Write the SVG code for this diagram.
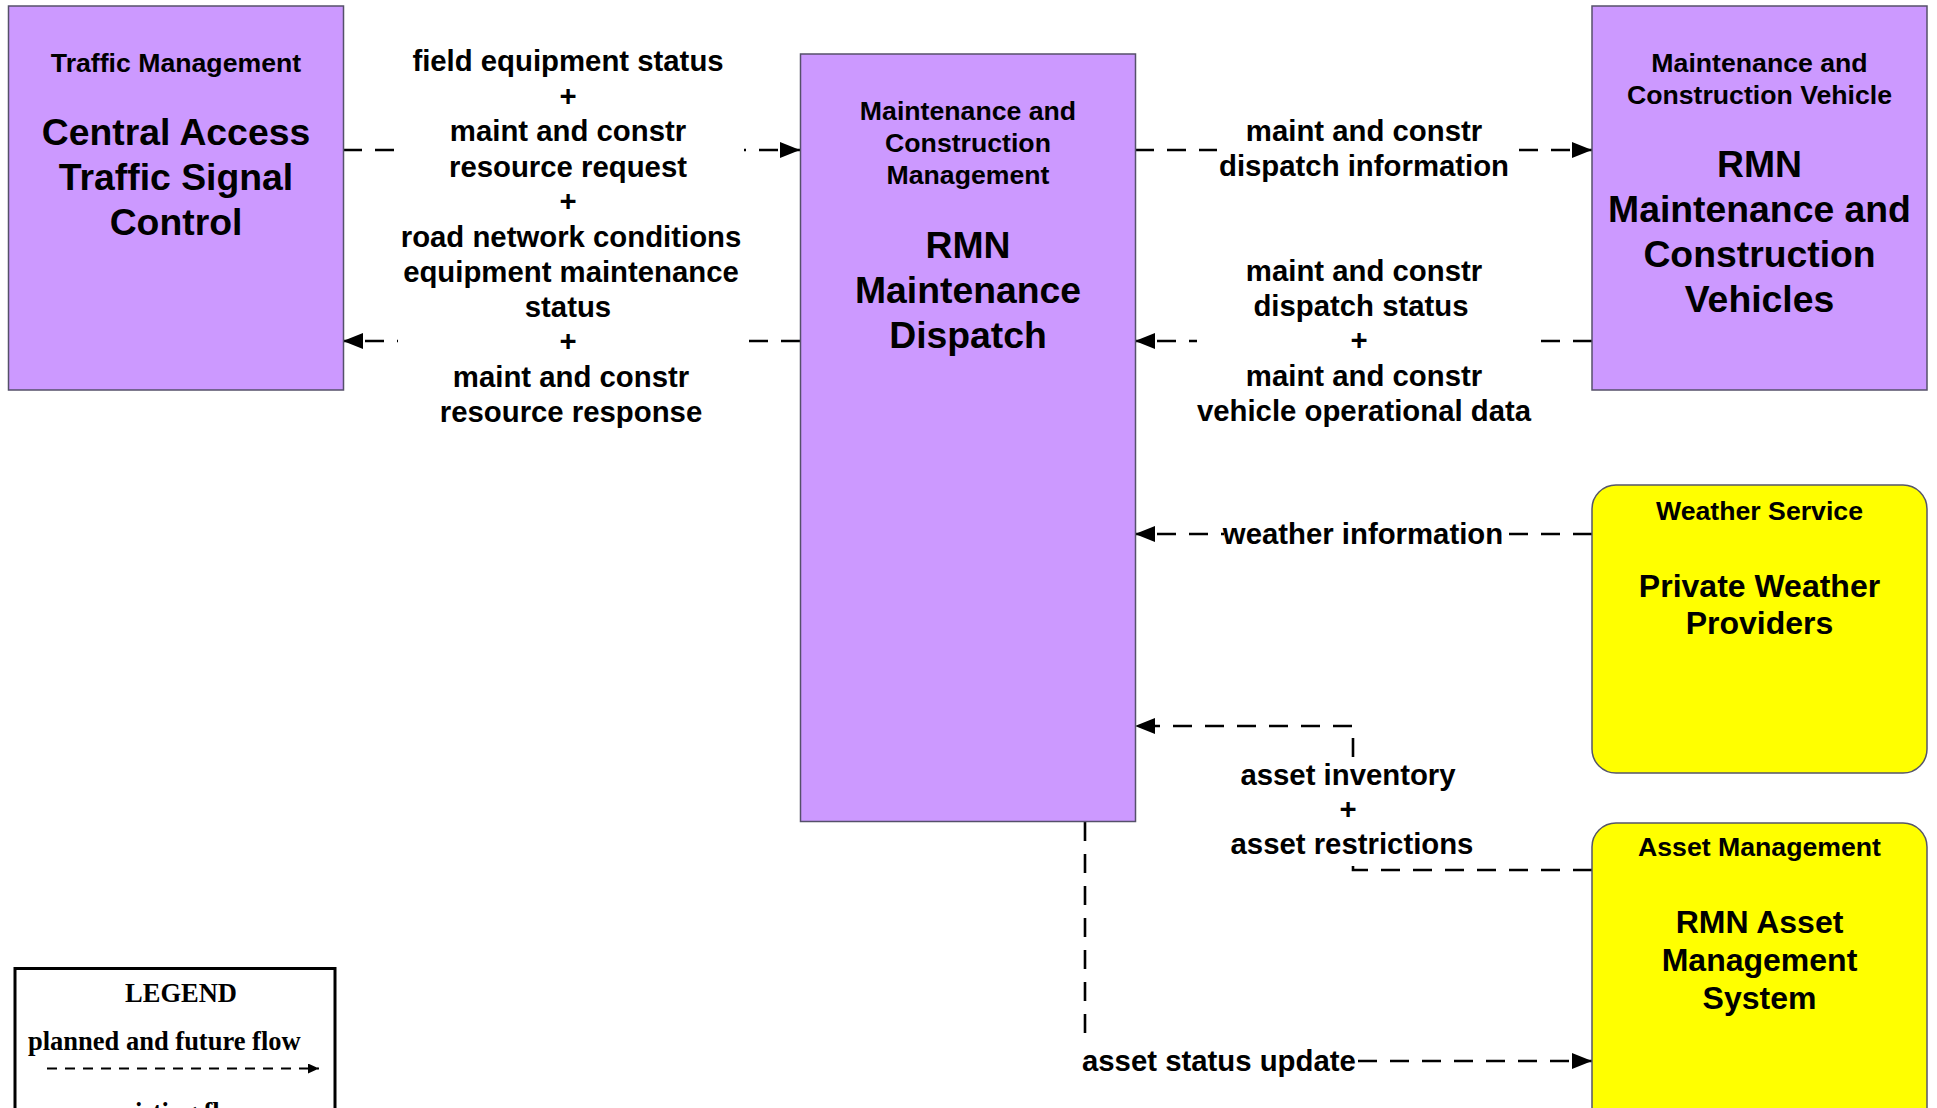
<svg xmlns="http://www.w3.org/2000/svg" width="1937" height="1108" viewBox="0 0 1937 1108">
<style>
.box{fill:#CC99FF;stroke:#55506a;stroke-width:1.5}
.ybox{fill:#FFFF00;stroke:#55556a;stroke-width:1.5}
text{font-family:"Liberation Sans",Arial,sans-serif;font-weight:bold;fill:#000;text-anchor:middle}
.s{font-size:26.67px}
.b{font-size:37.33px}
.m{font-size:32px}
.f{font-size:29.33px}
.flow{fill:none;stroke:#000;stroke-width:2.6;stroke-dasharray:19 13}
.mask{fill:#fff}
.lg{font-family:"Liberation Serif","Times New Roman",serif;font-size:26.5px}
</style>
<defs>
<marker id="ah" markerUnits="userSpaceOnUse" markerWidth="20" markerHeight="16" refX="20" refY="8" orient="auto">
<path d="M0,0 L20,8 L0,16 Z" fill="#000"/>
</marker>
<marker id="ahs" markerUnits="userSpaceOnUse" markerWidth="11" markerHeight="10" refX="11" refY="5" orient="auto">
<path d="M0,0 L11,5 L0,10 Z" fill="#000"/>
</marker>
</defs>

<g id="connectors">
<path class="flow" d="M343,150 L800,150" marker-end="url(#ah)"/>
<path class="flow" d="M800,341 L343,341" marker-end="url(#ah)"/>
<path class="flow" d="M1135,150 L1592,150" marker-end="url(#ah)"/>
<path class="flow" d="M1592,341 L1135,341" marker-end="url(#ah)"/>
<path class="flow" d="M1592,534 L1135,534" marker-end="url(#ah)"/>
<path class="flow" d="M1592,870 L1353,870 L1353,726 L1135,726" marker-end="url(#ah)"/>
<path class="flow" d="M1085,822 L1085,1061 L1592,1061" marker-end="url(#ah)"/>
<rect class="mask" x="398" y="38" width="346" height="395"/>
<rect class="mask" x="1217" y="118" width="300" height="68"/>
<rect class="mask" x="1197" y="255" width="342" height="175"/>
<rect class="mask" x="1224" y="515" width="279" height="38"/>
<rect class="mask" x="1225" y="757" width="255" height="109"/>
<rect class="mask" x="1078" y="1036" width="278" height="45"/>
<text class="f"><tspan x="568" y="71">field equipment status</tspan><tspan x="568" y="106">+</tspan><tspan x="568" y="141">maint and constr</tspan><tspan x="568" y="177">resource request</tspan><tspan x="568" y="211">+</tspan><tspan x="571" y="247">road network conditions</tspan></text>
<text class="f"><tspan x="571" y="282">equipment maintenance</tspan><tspan x="568" y="317">status</tspan><tspan x="568" y="351">+</tspan><tspan x="571" y="387">maint and constr</tspan><tspan x="571" y="422">resource response</tspan></text>
<text class="f"><tspan x="1364" y="141">maint and constr</tspan><tspan x="1364" y="176">dispatch information</tspan></text>
<text class="f"><tspan x="1364" y="281">maint and constr</tspan><tspan x="1361" y="316">dispatch status</tspan><tspan x="1359" y="350">+</tspan><tspan x="1364" y="386">maint and constr</tspan><tspan x="1364" y="421">vehicle operational data</tspan></text>
<text class="f" x="1363" y="544">weather information</text>
<text class="f"><tspan x="1348" y="785">asset inventory</tspan><tspan x="1348" y="819">+</tspan><tspan x="1352" y="854">asset restrictions</tspan></text>
<text class="f" x="1082" y="1071" style="text-anchor:start">asset status update</text>
</g>

<g id="traffic-signal-control">
<rect class="box" x="8.5" y="6" width="335" height="384"/>
<text class="s" x="176" y="72">Traffic Management</text>
<text class="b"><tspan x="176" y="145">Central Access</tspan><tspan x="176" y="190">Traffic Signal</tspan><tspan x="176" y="235">Control</tspan></text>
</g>

<g id="maintenance-dispatch">
<rect class="box" x="800.5" y="54" width="335" height="767.5"/>
<text class="s"><tspan x="968" y="120">Maintenance and</tspan><tspan x="968" y="152">Construction</tspan><tspan x="968" y="184">Management</tspan></text>
<text class="b"><tspan x="968" y="258">RMN</tspan><tspan x="968" y="303">Maintenance</tspan><tspan x="968" y="348">Dispatch</tspan></text>
</g>

<g id="mc-vehicles">
<rect class="box" x="1592" y="6" width="335" height="384"/>
<text class="s"><tspan x="1759.5" y="72">Maintenance and</tspan><tspan x="1759.5" y="104">Construction Vehicle</tspan></text>
<text class="b"><tspan x="1759.5" y="177">RMN</tspan><tspan x="1759.5" y="222">Maintenance and</tspan><tspan x="1759.5" y="267">Construction</tspan><tspan x="1759.5" y="312">Vehicles</tspan></text>
</g>

<g id="weather-providers">
<rect class="ybox" x="1592" y="485" width="335" height="288" rx="24" ry="24"/>
<text class="s" x="1759.5" y="520">Weather Service</text>
<text class="m"><tspan x="1759.5" y="597">Private Weather</tspan><tspan x="1759.5" y="634">Providers</tspan></text>
</g>

<g id="asset-management">
<rect class="ybox" x="1592" y="823" width="335" height="310" rx="24" ry="24"/>
<text class="s" x="1759.5" y="856">Asset Management</text>
<text class="m"><tspan x="1759.5" y="933">RMN Asset</tspan><tspan x="1759.5" y="971">Management</tspan><tspan x="1759.5" y="1009">System</tspan></text>
</g>

<g id="legend">
<rect x="15" y="968.5" width="320" height="160" fill="#fff" stroke="#000" stroke-width="3"/>
<text class="lg" x="181" y="1002">LEGEND</text>
<text class="lg" x="28" y="1050" style="text-anchor:start">planned and future flow</text>
<path d="M47,1068.5 L319,1068.5" fill="none" stroke="#000" stroke-width="2.2" stroke-dasharray="10 8" marker-end="url(#ahs)"/>
<text class="lg" x="181" y="1121">existing flow</text>
</g>
</svg>
